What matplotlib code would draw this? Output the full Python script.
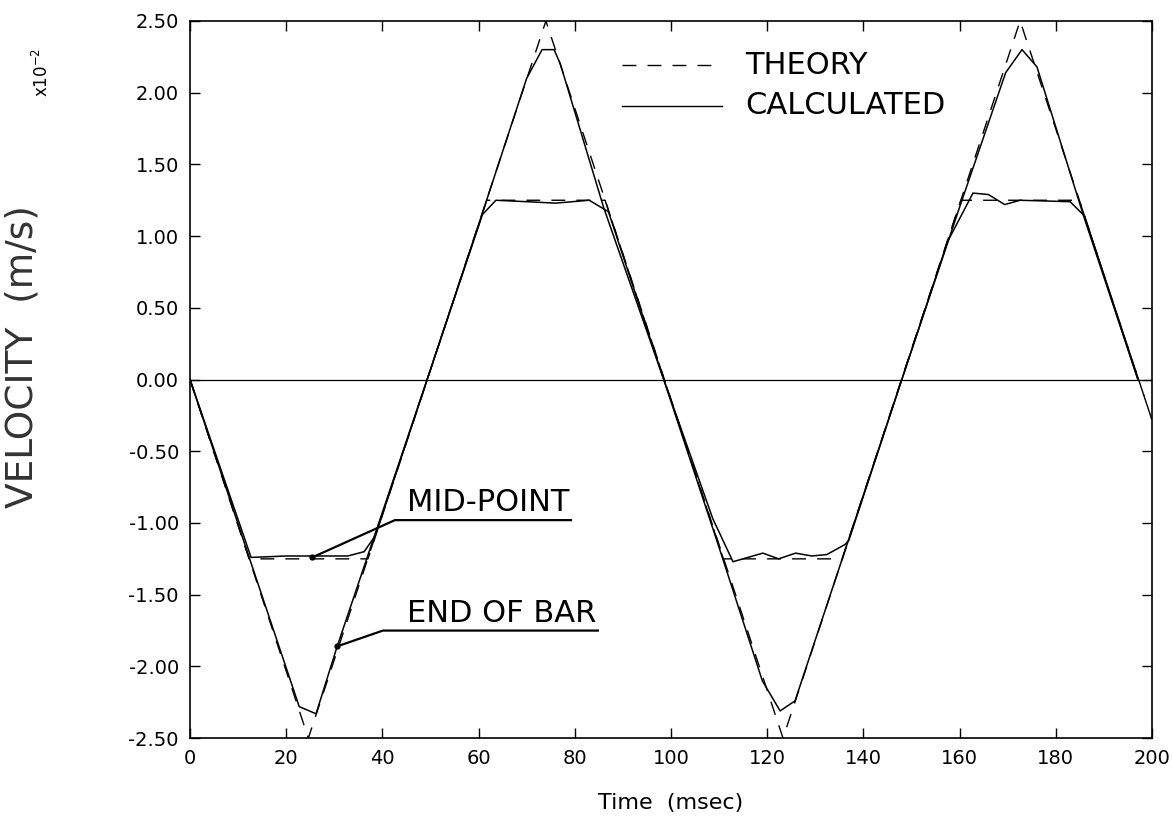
import matplotlib
matplotlib.use("Agg")
import matplotlib.pyplot as plt

plt.rcParams['font.family'] = ['DejaVu Sans']

# theory, end of bar (triangle wave)
t_theory_end = [0, 24.6, 74.0, 123.3, 172.6, 200]
v_theory_end = [0, -2.5, 2.5, -2.5, 2.5, -0.28]

# theory, mid-point (trapezoid wave)
t_theory_mid = [0, 12.3, 37.0, 61.7, 86.3, 110.9, 135.6, 160.3, 184.9, 200]
v_theory_mid = [0, -1.25, -1.25, 1.25, 1.25, -1.25, -1.25, 1.25, 1.25, -0.28]

# calculated, end of bar
t_calc_end = [0, 12.0, 22.7, 26.2, 30.6, 49.3, 60.0, 70.0, 73.2, 75.7, 77.0,
              86.0, 98.5, 110.0, 119.0, 122.7, 125.8, 148.0, 160.0, 169.6,
              173.0, 176.1, 186.0, 197.1]
v_calc_end = [0, -1.21, -2.28, -2.33, -1.86, 0, 1.08, 2.10, 2.30, 2.30, 2.20,
              1.20, 0, -1.17, -2.10, -2.31, -2.24, 0, 1.20, 2.14,
              2.30, 2.18, 1.12, 0]

# calculated, mid-point
t_calc_mid = [0, 12.7, 20.0, 25.4, 32.8, 36.2, 38.5, 49.3, 60.8, 63.6, 70.0,
              76.0, 83.0, 87.0, 98.5, 108.7, 112.9, 119.1, 122.4, 125.9,
              129.3, 132.4, 136.2, 137.0, 148.0, 157.5, 162.8, 166.0, 169.4,
              172.6, 183.0, 186.0, 197.1]
v_calc_mid = [0, -1.24, -1.23, -1.23, -1.23, -1.20, -1.09, 0, 1.15, 1.25, 1.24,
              1.23, 1.25, 1.17, 0, -0.97, -1.27, -1.21, -1.25, -1.21,
              -1.23, -1.22, -1.15, -1.12, 0, 0.96, 1.30, 1.29, 1.22,
              1.25, 1.24, 1.14, 0]

x_ticks = [0, 20, 40, 60, 80, 100, 120, 140, 160, 180, 200]
y_ticks = [-2.5, -2.0, -1.5, -1.0, -0.5, 0.0, 0.5, 1.0, 1.5, 2.0, 2.5]

fig = plt.figure(figsize=(11.73, 8.22), dpi=100)
ax = fig.add_axes([0.162, 0.102, 0.820, 0.8725])

dash = (10, 8)
ax.plot(t_theory_end, v_theory_end, color='black', lw=1.0, dashes=dash)
ax.plot(t_theory_mid, v_theory_mid, color='black', lw=1.0, dashes=dash)
ax.plot(t_calc_end, v_calc_end, color='black', lw=1.1)
ax.plot(t_calc_mid, v_calc_mid, color='black', lw=1.1)
ax.axhline(0, color='black', lw=0.9)

ax.set_xlim(0, 200)
ax.set_ylim(-2.5, 2.5)
ax.set_xticks(x_ticks)
ax.set_yticks(y_ticks)
ax.set_xticklabels([str(x) for x in x_ticks])
ax.set_yticklabels(['%.2f' % y for y in y_ticks])
ax.tick_params(direction='in', length=7, width=1.0, top=True, right=True,
               labelsize=14, pad=8)
for sp in ax.spines.values():
    sp.set_linewidth(1.2)

ax.set_xlabel('Time  (msec)', fontsize=16, labelpad=18)
fig.text(0.019, 0.566, 'VELOCITY  (m/s)', rotation=90, fontsize=27,
         ha='center', va='center', color='#333333')
fig.text(0.036, 0.912, r'x10$^{-2}$', rotation=90, fontsize=12,
         ha='center', va='center')

# legend drawn by hand like the plotter original
ax.plot([89.8, 110.6], [2.19, 2.19], color='black', lw=1.0, dashes=dash)
ax.plot([89.8, 110.6], [1.91, 1.91], color='black', lw=1.0)
ax.text(115.4, 2.19, 'THEORY', fontsize=22, va='center', ha='left')
ax.text(115.4, 1.91, 'CALCULATED', fontsize=22, va='center', ha='left')

# callouts
ax.text(45.1, -0.86, 'MID-POINT', fontsize=22, va='center', ha='left')
ax.plot([25.4, 42.6, 79.2], [-1.24, -0.98, -0.98], color='black', lw=1.6)
ax.plot([25.4], [-1.24], 'o', color='black', ms=3.5)
ax.text(45.1, -1.63, 'END OF BAR', fontsize=22, va='center', ha='left')
ax.plot([30.6, 40.1, 84.8], [-1.86, -1.75, -1.75], color='black', lw=1.6)
ax.plot([30.6], [-1.86], 'o', color='black', ms=3.5)

fig.savefig('out.png', dpi=100)
